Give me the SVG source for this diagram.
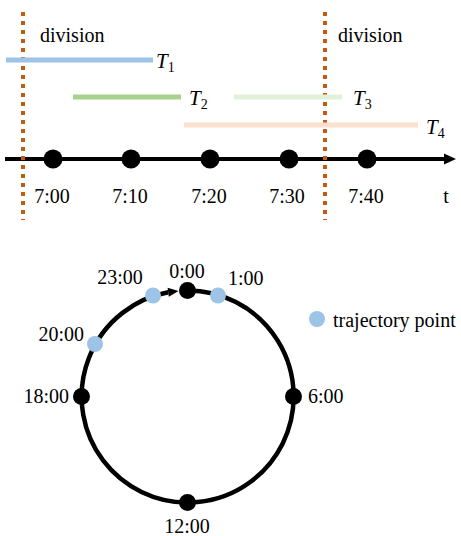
<svg xmlns="http://www.w3.org/2000/svg" width="461" height="536" viewBox="0 0 461 536">
<style>
text{font-family:"Liberation Serif","Times New Roman",serif;font-size:20px;fill:#000}
.ti{font-style:italic;font-size:21px}
.sub{font-style:normal;font-size:14px}
.div{stroke:#C55A11;stroke-width:4;stroke-dasharray:4 5;fill:none}
.axis{stroke:#000;stroke-width:4;fill:none}
.blk{fill:#000}
.blue{fill:#9DC3E6}
</style>
<rect width="461" height="536" fill="#fff"/>
<g id="connectors">
<line class="axis" x1="5" y1="159" x2="446" y2="159"/>
<polygon points="456,159 444,153.5 444,164.5" fill="#000"/>
<path d="M187.5,290.5 A106,106 0 1 1 168.2,292.3" fill="none" stroke="#000" stroke-width="4.5"/>
<polygon points="178.5,290.9 168.8,296.8 167.6,287.8" fill="#000"/>
</g>
<g id="division1">
<line class="div" x1="23" y1="12" x2="23" y2="220"/>
<text x="40" y="42">division</text>
</g>
<g id="division2">
<line class="div" x1="325" y1="12" x2="325" y2="220"/>
<text x="338" y="42">division</text>
</g>
<g id="T1">
<line x1="6" y1="60" x2="153" y2="60" stroke="#9DC3E6" stroke-width="5"/>
<text class="ti" x="156" y="68">T<tspan class="sub" dy="4">1</tspan></text>
</g>
<g id="T2">
<line x1="73" y1="97" x2="181" y2="97" stroke="#A9D18E" stroke-width="5"/>
<text class="ti" x="189" y="105">T<tspan class="sub" dy="4">2</tspan></text>
</g>
<g id="T3">
<line x1="234" y1="97" x2="342" y2="97" stroke="#E2F0D9" stroke-width="5"/>
<text class="ti" x="353" y="105">T<tspan class="sub" dy="4">3</tspan></text>
</g>
<g id="T4">
<line x1="184" y1="125" x2="418" y2="125" stroke="#FBE0CE" stroke-width="5"/>
<text class="ti" x="426" y="134">T<tspan class="sub" dy="4">4</tspan></text>
</g>
<g id="t700"><circle class="blk" cx="53" cy="159" r="9.5"/><text x="52" y="203" text-anchor="middle">7:00</text></g>
<g id="t710"><circle class="blk" cx="131" cy="159" r="9.5"/><text x="130" y="203" text-anchor="middle">7:10</text></g>
<g id="t720"><circle class="blk" cx="210" cy="159" r="9.5"/><text x="209" y="203" text-anchor="middle">7:20</text></g>
<g id="t730"><circle class="blk" cx="289" cy="159" r="9.5"/><text x="287" y="203" text-anchor="middle">7:30</text></g>
<g id="t740"><circle class="blk" cx="367" cy="159" r="9.5"/><text x="366" y="203" text-anchor="middle">7:40</text></g>
<g id="taxis"><text x="446" y="203" text-anchor="middle">t</text></g>
<g id="h0"><circle class="blk" cx="187.5" cy="290.5" r="8.5"/><text x="187" y="278" text-anchor="middle">0:00</text></g>
<g id="h6"><circle class="blk" cx="293.5" cy="396.5" r="8.5"/><text x="308" y="403">6:00</text></g>
<g id="h12"><circle class="blk" cx="187.5" cy="502.5" r="8.5"/><text x="187" y="533" text-anchor="middle">12:00</text></g>
<g id="h18"><circle class="blk" cx="81.5" cy="396.5" r="8.5"/><text x="69" y="403" text-anchor="end">18:00</text></g>
<g id="p23"><circle class="blue" cx="153" cy="295.5" r="8"/><text x="120" y="284" text-anchor="middle">23:00</text></g>
<g id="p1"><circle class="blue" cx="218" cy="295.5" r="8"/><text x="228" y="285">1:00</text></g>
<g id="p20"><circle class="blue" cx="95" cy="344" r="8"/><text x="84" y="341" text-anchor="end">20:00</text></g>
<g id="legend"><circle class="blue" cx="317" cy="319" r="8"/><text x="333" y="327">trajectory point</text></g>
</svg>
